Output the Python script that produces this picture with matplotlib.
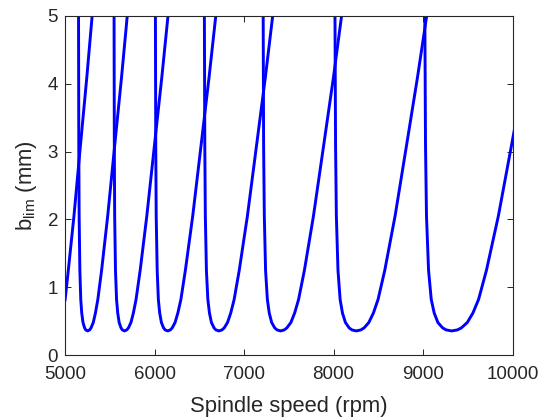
import matplotlib
matplotlib.use('Agg')
import matplotlib.pyplot as plt

# b_lim levels (mm) read along each lobe: left (steep) branch top->bottom, minimum, right branch bottom->top
blim_left = [5.15, 3.1, 2.05, 1.25, 0.82, 0.62, 0.48, 0.40, 0.37]
blim_min = 0.355
blim_right = [0.37, 0.40, 0.48, 0.62, 0.82, 1.25, 2.05, 3.1, 4.1, 5.15]

# spindle speeds (rpm) read for each lobe at those levels
lobe8_left = [9020, 9028, 9039, 9062, 9092, 9125, 9166, 9219, 9259]
lobe8_min = 9320
lobe8_right = [9384, 9429, 9495, 9558, 9621, 9709, 9842, 9990, 10129, 10263]

lobe9_left = [8016, 8023, 8032, 8050, 8074, 8100, 8133, 8175, 8206]
lobe9_min = 8255
lobe9_right = [8306, 8342, 8395, 8446, 8498, 8573, 8688, 8817, 8939, 9058]

lobe10_left = [7214, 7219, 7227, 7241, 7261, 7282, 7309, 7343, 7369]
lobe10_min = 7408
lobe10_right = [7450, 7479, 7524, 7566, 7610, 7675, 7776, 7891, 8000, 8105]

lobe11_left = [6557, 6562, 6568, 6580, 6596, 6614, 6636, 6665, 6686]
lobe11_min = 6719
lobe11_right = [6754, 6779, 6816, 6852, 6890, 6947, 7038, 7141, 7239, 7334]

lobe12_left = [6010, 6014, 6019, 6030, 6043, 6058, 6077, 6101, 6119]
lobe12_min = 6147
lobe12_right = [6177, 6198, 6230, 6261, 6295, 6345, 6427, 6521, 6610, 6697]

lobe13_left = [5548, 5551, 5555, 5564, 5576, 5589, 5605, 5626, 5641]
lobe13_min = 5665
lobe13_right = [5690, 5709, 5737, 5764, 5794, 5840, 5914, 6000, 6082, 6162]

lobe14_left = [5151, 5154, 5158, 5166, 5176, 5187, 5201, 5219, 5232]
lobe14_min = 5253
lobe14_right = [5275, 5291, 5316, 5340, 5367, 5409, 5477, 5556, 5632, 5706]

# partial lobe entering at the left edge (right branch only)
lobe15_speed = [5000, 5037, 5100, 5173, 5244, 5313]
lobe15_blim = [0.80, 1.25, 2.05, 3.1, 4.1, 5.15]

xticks = [5000, 6000, 7000, 8000, 9000, 10000]
yticks = [0, 1, 2, 3, 4, 5]

plt.rcParams['font.family'] = ['Liberation Sans', 'DejaVu Sans']
plt.rcParams['mathtext.fontset'] = 'custom'
plt.rcParams['mathtext.rm'] = 'Liberation Sans'
plt.rcParams['mathtext.it'] = 'Liberation Sans:italic'

fig = plt.figure(figsize=(5.52, 4.18), dpi=100)
ax = fig.add_axes([65 / 552, 63 / 418, 447.5 / 552, 339 / 418])

blim_full = blim_left + [blim_min] + blim_right
lobes = [
    (lobe8_left, lobe8_min, lobe8_right),
    (lobe9_left, lobe9_min, lobe9_right),
    (lobe10_left, lobe10_min, lobe10_right),
    (lobe11_left, lobe11_min, lobe11_right),
    (lobe12_left, lobe12_min, lobe12_right),
    (lobe13_left, lobe13_min, lobe13_right),
    (lobe14_left, lobe14_min, lobe14_right),
]
for left, mn, right in lobes:
    ax.plot(left + [mn] + right, blim_full, color='#0000ff', lw=2.1,
            solid_joinstyle='round', solid_capstyle='round')
ax.plot(lobe15_speed, lobe15_blim, color='#0000ff', lw=2.1,
        solid_joinstyle='round', solid_capstyle='round')

ax.set_xlim(5000, 10000)
ax.set_ylim(0, 5)
ax.set_xticks(xticks)
ax.set_yticks(yticks)
ax.tick_params(direction='in', top=True, right=True, length=4, width=0.7,
               colors='#262626', labelsize=13.5)
ax.tick_params(axis='x', pad=8)
ax.tick_params(axis='y', pad=5)
for sp in ax.spines.values():
    sp.set_color('#262626')
    sp.set_linewidth(0.8)

ax.set_xlabel('Spindle speed (rpm)', fontsize=15.8, color='#262626', labelpad=9)
ax.set_ylabel(r'$\mathrm{b}_{\mathrm{lim}}$ (mm)', fontsize=15.8, color='#262626', labelpad=6)

fig.savefig('out.png', dpi=100)
